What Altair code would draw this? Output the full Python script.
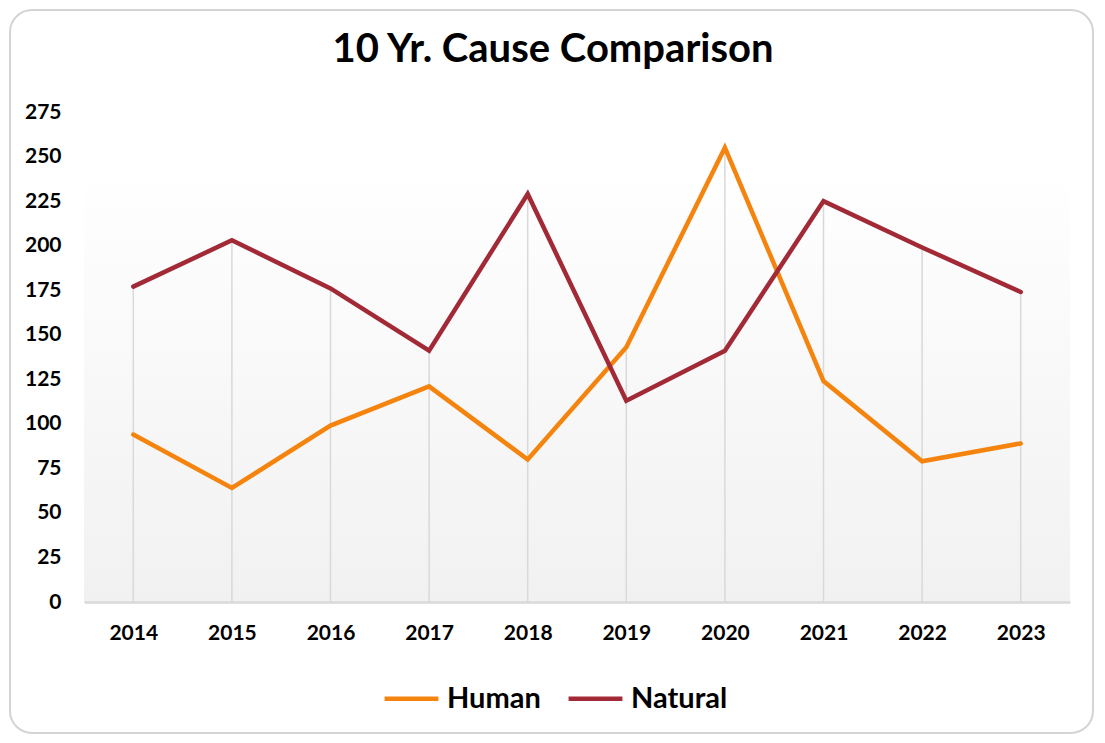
import altair as alt
import pandas as pd

title_text = "10 Yr. Cause Comparison"
years = ["2014", "2015", "2016", "2017", "2018", "2019", "2020", "2021", "2022", "2023"]
human = [94, 64, 99, 121, 80, 143, 255, 124, 79, 89]
natural = [177, 203, 176, 141, 229, 113, 141, 225, 199, 174]
series_names = ["Human", "Natural"]
series_colors = ["#F4840E", "#A12A36"]
y_ticks = list(range(0, 276, 25))

FONT = "Lato"

wide = pd.DataFrame({"Year": years, "Human": human, "Natural": natural})
long = pd.concat([
    pd.DataFrame({"Year": years, "Series": "Human", "Value": human}),
    pd.DataFrame({"Year": years, "Series": "Natural", "Value": natural}),
])

xscale = alt.Scale(type="point", padding=0.5, domain=years)
yscale = alt.Scale(domain=[0, 275], nice=False)

x_axis = alt.Axis(labelAngle=0, ticks=False, domain=True, domainColor="#d9d9d9",
                  domainWidth=2.5, grid=False, labelFont=FONT, labelFontSize=21,
                  labelFontWeight="bold", labelColor="#000000", labelPadding=20, zindex=1)
y_axis = alt.Axis(values=y_ticks, ticks=False, domain=False, grid=False,
                  labelFont=FONT, labelFontSize=21, labelFontWeight="bold",
                  labelColor="#000000", labelPadding=23, zindex=1)

one = alt.Data(values=[{"t": title_text}])

frame = alt.Chart(one).mark_rect(
    fill="transparent", stroke="#d4d4d4", strokeWidth=2, cornerRadius=22
).encode(
    x=alt.value(-74), x2=alt.value(1009), y=alt.value(-102), y2=alt.value(621)
)

bg = alt.Chart(one).mark_rect(
    color=alt.LinearGradient(
        gradient="linear", x1=0, y1=0, x2=0, y2=1,
        stops=[alt.GradientStop(color="#ffffff", offset=0),
               alt.GradientStop(color="#f1f1f1", offset=1)]
    )
).encode(
    x=alt.value(0), x2=alt.value("width"), y=alt.value(56), y2=alt.value("height")
)

title = alt.Chart(one).mark_text(
    font=FONT, fontSize=40, fontWeight="bold", color="#000000",
    align="center", baseline="middle"
).encode(text="t:N", x=alt.value(469), y=alt.value(-62))

drops = alt.Chart(wide).transform_calculate(
    top="max(datum.Human, datum.Natural)"
).mark_rule(color="#d9d9d9", strokeWidth=1.5).encode(
    x=alt.X("Year:O", scale=xscale, axis=x_axis, title=None),
    y=alt.Y("top:Q", scale=yscale, axis=y_axis, title=None),
    y2=alt.datum(0),
)

lines = alt.Chart(long).mark_line(strokeWidth=4.5, strokeCap="round", strokeJoin="miter").encode(
    x=alt.X("Year:O", scale=xscale, title=None, axis=x_axis),
    y=alt.Y("Value:Q", scale=yscale, title=None, axis=y_axis),
    color=alt.Color("Series:N", scale=alt.Scale(domain=series_names, range=series_colors),
                    legend=alt.Legend(orient="none", legendX=298, legendY=557, direction="horizontal",
                                      title=None, symbolType="stroke", symbolSize=2900,
                                      symbolStrokeWidth=4.5, labelFont=FONT, labelFontSize=29,
                                      labelFontWeight="bold", labelColor="#000000",
                                      columnPadding=18, labelOffset=6)),
    detail="Series:N",
)

chart = alt.layer(frame, bg, drops, lines, title).properties(
    width=986, height=490,
    autosize=alt.AutoSizeParams(type="none"),
    padding={"left": 76, "top": 104, "right": 25, "bottom": 133},
).configure_view(stroke=None)

chart.save("out.html", embed_options={"renderer": "svg", "actions": False})
